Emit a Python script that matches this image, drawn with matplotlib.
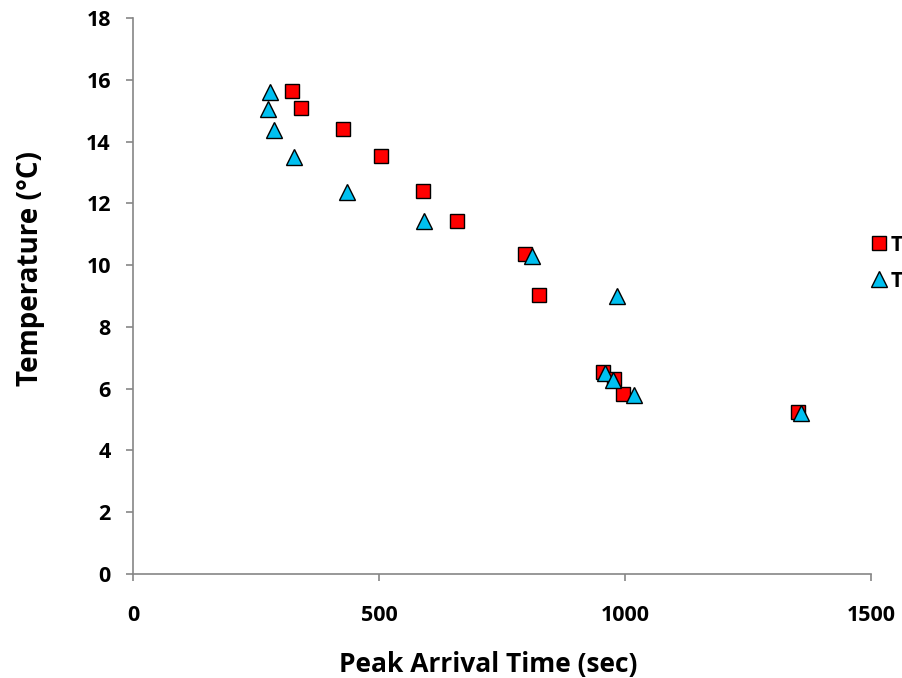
import matplotlib.pyplot as plt

# peak arrival time (sec) and temperature (°C) for the two series
sq_time = [323, 341, 427, 504, 589, 659, 797, 825, 955, 978, 996, 1352]
sq_temp = [15.64, 15.09, 14.41, 13.53, 12.40, 11.43, 10.36, 9.03, 6.54, 6.31, 5.83, 5.24]

tri_time = [278, 274, 287, 327, 435, 591, 811, 984, 959, 976, 1018, 1358]
tri_temp = [15.6, 15.05, 14.37, 13.5, 12.37, 11.43, 10.3, 9.0, 6.5, 6.28, 5.8, 5.21]

series_labels = ["T", "T"]

plt.rcParams["font.family"] = ["Open Sans", "DejaVu Sans"]
plt.rcParams["font.weight"] = "bold"

fig = plt.figure(figsize=(9.03, 6.78), dpi=100)
ax = fig.add_axes([0.1473, 0.1534, 0.8173, 0.8201])

ax.plot(sq_time, sq_temp, "s", ms=10, mfc="#ff0000", mec="black", mew=1,
        label=series_labels[0])
ax.plot(tri_time, tri_temp, "^", ms=11, mfc="#00c0f0", mec="black", mew=1,
        label=series_labels[1])

ax.set_xlim(0, 1500)
ax.set_ylim(0, 18)
ax.set_xticks([0, 500, 1000, 1500])
ax.set_yticks(range(0, 19, 2))

for side in ("top", "right"):
    ax.spines[side].set_visible(False)
for side in ("left", "bottom"):
    ax.spines[side].set_color("#868686")
    ax.spines[side].set_linewidth(1.2)
ax.tick_params(direction="out", length=5, width=1.2, color="#868686",
               labelsize=15.5)
ax.tick_params(axis="x", pad=17)
ax.tick_params(axis="y", pad=11)
for lbl in ax.get_xticklabels() + ax.get_yticklabels():
    lbl.set_fontweight("bold")

ax.set_xlabel("Peak Arrival Time (sec)", fontsize=19, fontweight="bold")
ax.set_ylabel("Temperature (°C)", fontsize=20, fontweight="bold")
ax.xaxis.set_label_coords(0.481, -0.138)
ax.yaxis.set_label_coords(-0.119, 0.55)

ax.legend(loc="center left", bbox_to_anchor=(0.962, 0.612),
          bbox_transform=fig.transFigure, frameon=False, fontsize=15.5,
          handletextpad=0.0, labelspacing=0.7, handlelength=1.0,
          borderaxespad=0, borderpad=0)

fig.savefig("out.png", dpi=100)
